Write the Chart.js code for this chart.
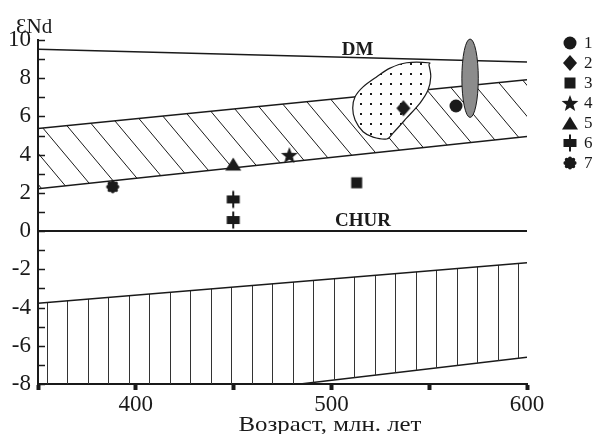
<!DOCTYPE html>
<html>
<head>
<meta charset="utf-8">
<script src="https://cdn.jsdelivr.net/npm/chart.js@4/dist/chart.umd.min.js"></script>
<style>
  html, body { margin: 0; padding: 0; background: #fff; }
  #wrap { width: 597px; height: 434px; }
</style>
</head>
<body>
<div id="wrap"><canvas id="chart"></canvas></div>
<script>
// Возраст (млн. лет) / εNd
const labeledAges = [400, 500, 600];
const labeledEps = [-8, -6, -4, -2, 0, 2, 4, 6, 8, 10];

// линии DM и CHUR
const dmAge = [350, 600];
const dmEps = [9.52, 8.85];
const churAge = [350, 600];
const churEps = [0, 0];

// поле мантийных источников (косая штриховка)
const mantleTopAge = [350, 600];
const mantleTopEps = [5.37, 7.92];
const mantleBotAge = [350, 600];
const mantleBotEps = [2.22, 4.95];

// поле коры (вертикальная штриховка)
const crustTopAge = [350, 600];
const crustTopEps = [-3.78, -1.65];
const crustBotAge = [350, 484, 600];
const crustBotEps = [-8, -8, -6.6];

// точечное поле
const fieldAge = [549.5, 538.5, 530.0, 523.2, 516.2, 512.1, 510.9, 512.1, 516.2, 521.3, 528.3, 531.5, 538.5, 545.3, 549.4, 550.8, 549.9];
const fieldEps = [8.81, 8.81, 8.53, 8.08, 7.55, 7.03, 6.44, 5.81, 5.20, 4.92, 4.82, 5.13, 5.92, 6.70, 7.38, 8.08, 8.69];

// серый эллипс (границы)
const ovalAge = [566.7, 575.1];
const ovalEps = [5.95, 10.05];

// образцы 1-7
const age1 = [563.7], eps1 = [6.55];
const age2 = [536.8], eps2 = [6.43];
const age3 = [512.9], eps3 = [2.53];
const age4 = [478.5], eps4 = [3.98];
const age5 = [449.8], eps5 = [3.51];
const age6 = [449.8, 449.8], eps6 = [1.66, 0.58];
const age7 = [388.2], eps7 = [2.32];
const legendLabels = ['1', '2', '3', '4', '5', '6', '7'];

const INK = '#1a1a1a';
const SERIF = "'Liberation Serif', 'Times New Roman', serif";

const pts = (xs, ys) => xs.map((x, i) => ({ x: x, y: ys[i] }));

// значки
function makeMark(draw) {
  const c = document.createElement('canvas');
  c.width = 20; c.height = 20;
  const g = c.getContext('2d');
  g.fillStyle = INK;
  g.beginPath();
  draw(g);
  g.fill();
  return c;
}
const marks = [
  makeMark(g => g.arc(10, 10, 6.5, 0, Math.PI * 2)),
  makeMark(g => { g.moveTo(10, 2); g.lineTo(17, 10); g.lineTo(10, 18); g.lineTo(3, 10); g.closePath(); }),
  makeMark(g => g.rect(4.5, 4.5, 11, 11)),
  makeMark(g => {
    for (let i = 0; i < 10; i++) {
      const r = i % 2 ? 3.7 : 8.8;
      const a = -Math.PI / 2 + i * Math.PI / 5;
      const px = 10 + r * Math.cos(a), py = 10.8 + r * Math.sin(a);
      i ? g.lineTo(px, py) : g.moveTo(px, py);
    }
    g.closePath();
  }),
  makeMark(g => { g.moveTo(10, 3.5); g.lineTo(18, 16.5); g.lineTo(2, 16.5); g.closePath(); }),
  makeMark(g => { g.rect(3.5, 6, 13, 8); g.rect(9, 1.5, 2, 17); }),
  makeMark(g => {
    g.arc(10, 10, 4.6, 0, Math.PI * 2);
    for (let i = 0; i < 8; i++) {
      const a = i * Math.PI / 4;
      g.moveTo(10 + 4.6 * Math.cos(a) + 2, 10 + 4.6 * Math.sin(a));
      g.arc(10 + 4.6 * Math.cos(a), 10 + 4.6 * Math.sin(a), 2, 0, Math.PI * 2);
    }
  })
];

// штриховки
function makeTile(w, h, draw) {
  const c = document.createElement('canvas');
  c.width = w; c.height = h;
  draw(c.getContext('2d'));
  return document.createElement('canvas').getContext('2d').createPattern(c, 'repeat');
}
const diagHatch = makeTile(26, 31, g => {
  g.strokeStyle = INK; g.lineWidth = 1;
  for (let k = -1; k <= 1; k++) {
    g.beginPath();
    g.moveTo(k * 26 + 13.5 - 26, -31);
    g.lineTo(k * 26 + 13.5 + 52, 62);
    g.stroke();
  }
});
const vertHatch = makeTile(41, 10, g => {
  g.fillStyle = '#333';
  g.fillRect(6, 0, 1, 10);
  g.fillRect(26, 0, 1, 10);
});
const dotFill = makeTile(10, 10, g => {
  g.fillStyle = '#fff'; g.fillRect(0, 0, 10, 10);
  g.fillStyle = '#1a1a1a'; g.fillRect(0, 3, 2, 2);
});

const lineDs = (xs, ys, extra) => Object.assign({
  data: pts(xs, ys), borderColor: INK, borderWidth: 1.5, pointRadius: 0,
  fill: false, tension: 0, order: 1
}, extra || {});

const markDs = (xs, ys, i) => ({
  data: pts(xs, ys), showLine: false, pointStyle: marks[i],
  pointRadius: 8, isMarker: true, order: 0
});

function smoothClosed(ctx, p) {
  const n = p.length;
  ctx.moveTo(p[0].x, p[0].y);
  for (let i = 0; i < n; i++) {
    const p0 = p[(i - 1 + n) % n], p1 = p[i], p2 = p[(i + 1) % n], p3 = p[(i + 2) % n];
    ctx.bezierCurveTo(p1.x + (p2.x - p0.x) / 6, p1.y + (p2.y - p0.y) / 6,
      p2.x - (p3.x - p1.x) / 6, p2.y - (p3.y - p1.y) / 6, p2.x, p2.y);
  }
  ctx.closePath();
}

function drawFields(chart) {
  const { ctx, scales: { x, y } } = chart;
  ctx.save();
  // точечное поле
  const fp = fieldAge.map((a, i) => ({ x: x.getPixelForValue(a), y: y.getPixelForValue(fieldEps[i]) }));
  ctx.beginPath();
  smoothClosed(ctx, fp);
  ctx.fillStyle = dotFill;
  ctx.fill();
  ctx.strokeStyle = INK; ctx.lineWidth = 1.2;
  ctx.stroke();
  // серый эллипс
  const x0 = x.getPixelForValue(ovalAge[0]), x1 = x.getPixelForValue(ovalAge[1]);
  const y0 = y.getPixelForValue(ovalEps[0]), y1 = y.getPixelForValue(ovalEps[1]);
  ctx.beginPath();
  ctx.ellipse((x0 + x1) / 2, (y0 + y1) / 2, Math.abs(x1 - x0) / 2, Math.abs(y1 - y0) / 2, 0, 0, Math.PI * 2);
  ctx.fillStyle = '#8c8c8c';
  ctx.fill();
  ctx.lineWidth = 1;
  ctx.stroke();
  ctx.restore();
}

const decor = {
  id: 'decor',
  beforeDatasetsDraw() { this._done = false; },
  beforeDatasetDraw(chart, args) {
    if (!this._done && chart.data.datasets[args.index].isMarker) {
      drawFields(chart);
      this._done = true;
    }
  },
  afterDraw(chart) {
    const { ctx, scales: { x, y }, chartArea } = chart;
    ctx.save();
    // внутренние засечки оси Y
    ctx.strokeStyle = INK; ctx.lineWidth = 1.5;
    y.ticks.forEach(t => {
      const py = Math.round(y.getPixelForValue(t.value)) + 0.5;
      ctx.beginPath();
      ctx.moveTo(chartArea.left, py);
      ctx.lineTo(chartArea.left + 7, py);
      ctx.stroke();
    });
    // подписи DM и CHUR
    ctx.fillStyle = INK;
    ctx.font = 'bold 19px ' + SERIF;
    ctx.textAlign = 'center';
    ctx.textBaseline = 'alphabetic';
    ctx.fillText('DM', 357.5, 55);
    ctx.fillText('CHUR', 363, 226);
    // заголовки осей
    ctx.save();
    ctx.translate(330, 431);
    ctx.scale(1.13, 1);
    ctx.font = '22px ' + SERIF;
    ctx.fillText('Возраст, млн. лет', 0, 0);
    ctx.restore();
    ctx.textAlign = 'left';
    ctx.font = '21px ' + SERIF;
    ctx.fillText('ƐNd', 16, 33);
    // легенда
    ctx.font = '17px ' + SERIF;
    ctx.textBaseline = 'middle';
    legendLabels.forEach((lab, i) => {
      const ly = 43 + i * 20;
      ctx.drawImage(marks[i], 570 - 10, ly - 10);
      ctx.fillText(lab, 584, ly + 1);
    });
    ctx.restore();
  }
};

new Chart(document.getElementById('chart'), {
  type: 'line',
  data: {
    datasets: [
      lineDs(mantleTopAge, mantleTopEps, { fill: '+1', backgroundColor: diagHatch }),
      lineDs(mantleBotAge, mantleBotEps),
      lineDs(crustTopAge, crustTopEps, { fill: '+1', backgroundColor: vertHatch }),
      lineDs(crustBotAge, crustBotEps),
      lineDs(dmAge, dmEps),
      lineDs(churAge, churEps, { borderWidth: 2 }),
      markDs(age1, eps1, 0),
      markDs(age2, eps2, 1),
      markDs(age3, eps3, 2),
      markDs(age4, eps4, 3),
      markDs(age5, eps5, 4),
      markDs(age6, eps6, 5),
      markDs(age7, eps7, 6)
    ]
  },
  options: {
    responsive: true,
    maintainAspectRatio: false,
    animation: false,
    events: [],
    layout: { padding: { top: 40, right: 70, left: 0, bottom: 0 } },
    plugins: {
      legend: { display: false },
      tooltip: { enabled: false }
    },
    scales: {
      x: {
        type: 'linear', min: 350, max: 600,
        afterFit: s => { s.height = 50; },
        ticks: {
          stepSize: 50, autoSkip: false, maxRotation: 0, padding: 1,
          font: { family: SERIF, size: 23 }, color: INK,
          callback: v => labeledAges.includes(v) ? String(v) : ''
        },
        grid: { display: true, drawOnChartArea: false, drawTicks: true, tickLength: 6, tickWidth: 4, tickColor: INK },
        border: { display: true, color: INK, width: 2 }
      },
      y: {
        type: 'linear', min: -8, max: 10,
        afterFit: s => { s.width = 38; },
        ticks: {
          stepSize: 1, autoSkip: false, padding: 7,
          font: { family: SERIF, size: 23 }, color: INK,
          callback: v => labeledEps.includes(v) ? String(v) : ''
        },
        grid: { display: true, drawOnChartArea: false, drawTicks: false },
        border: { display: true, color: INK, width: 2 }
      }
    }
  },
  plugins: [decor]
});
</script>
</body>
</html>
